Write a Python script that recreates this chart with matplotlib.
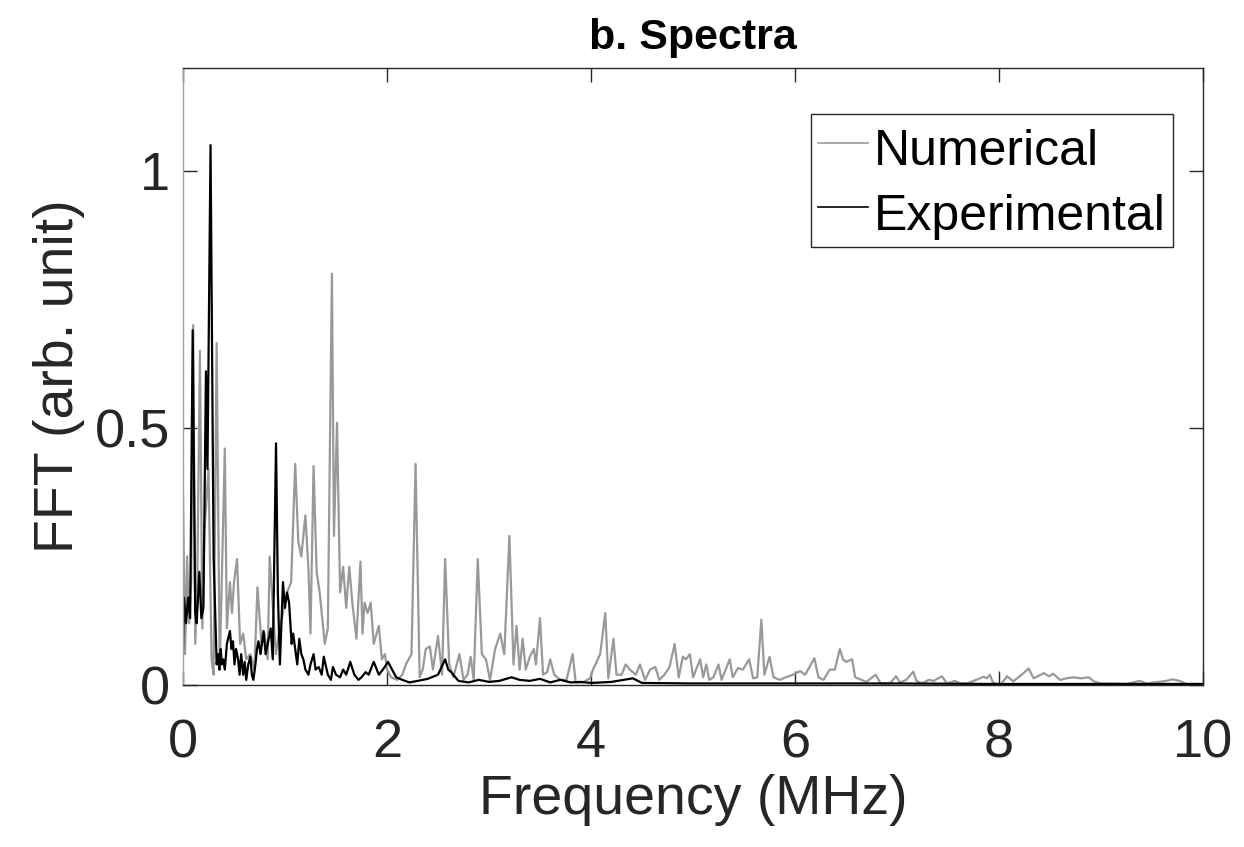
import matplotlib
matplotlib.use("Agg")
import matplotlib.pyplot as plt

# ---- data ----
num_freq = [0.00, 0.02, 0.04, 0.06, 0.08, 0.10, 0.12, 0.14, 0.166, 0.19, 0.21, 0.25, 0.28, 0.30,
            0.33, 0.36, 0.38, 0.41, 0.43, 0.46, 0.48, 0.50, 0.53, 0.56, 0.59, 0.62, 0.66, 0.70,
            0.73, 0.77, 0.80, 0.83, 0.85, 0.88, 0.91, 0.94, 0.98, 1.02, 1.06, 1.10, 1.13, 1.16,
            1.20, 1.23, 1.25, 1.28, 1.31, 1.34, 1.37, 1.39, 1.42, 1.46, 1.48, 1.51, 1.54, 1.57,
            1.60, 1.63, 1.66, 1.70, 1.74, 1.76, 1.78, 1.81, 1.84, 1.87, 1.92, 1.95, 1.98, 2.00,
            2.04, 2.10, 2.15, 2.19, 2.24, 2.28, 2.32, 2.35, 2.38, 2.42, 2.45, 2.50, 2.54, 2.57,
            2.61, 2.65, 2.71, 2.75, 2.79, 2.82, 2.85, 2.89, 2.93, 2.97, 3.01, 3.06, 3.11, 3.15,
            3.20, 3.24, 3.27, 3.30, 3.33, 3.36, 3.40, 3.44, 3.46, 3.50, 3.53, 3.57, 3.60, 3.64,
            3.70, 3.76, 3.82, 3.85, 3.92, 3.99, 4.02, 4.09, 4.14, 4.17, 4.22, 4.25, 4.30, 4.34,
            4.38, 4.44, 4.48, 4.53, 4.58, 4.63, 4.67, 4.72, 4.77, 4.82, 4.86, 4.90, 4.93, 4.97,
            5.00, 5.07, 5.10, 5.13, 5.16, 5.20, 5.25, 5.28, 5.36, 5.39, 5.44, 5.49, 5.55, 5.59,
            5.63, 5.67, 5.70, 5.75, 5.79, 5.85, 5.91, 5.98, 6.05, 6.10, 6.19, 6.23, 6.28, 6.34,
            6.39, 6.44, 6.47, 6.50, 6.56, 6.59, 6.65, 6.70, 6.79, 6.84, 6.93, 6.99, 7.03, 7.09,
            7.16, 7.19, 7.25, 7.31, 7.36, 7.44, 7.49, 7.57, 7.62, 7.69, 7.85, 7.88, 7.91, 7.94,
            8.01, 8.08, 8.14, 8.24, 8.29, 8.34, 8.44, 8.49, 8.53, 8.60, 8.66, 8.73, 8.80, 8.88,
            8.93, 9.00, 9.13, 9.25, 9.38, 9.45, 9.64, 9.70, 9.77, 9.84, 9.97, 10.0]
num_fft = [0.37, 0.06, 0.25, 0.12, 0.20, 0.70, 0.08, 0.20, 0.65, 0.11, 0.30, 0.42, 0.05, 0.02,
           0.665, 0.03, 0.20, 0.46, 0.11, 0.20, 0.14, 0.20, 0.245, 0.08, 0.10, 0.05, 0.06, 0.03,
           0.19, 0.08, 0.10, 0.05, 0.25, 0.155, 0.06, 0.10, 0.14, 0.18, 0.20, 0.43, 0.28, 0.25,
           0.33, 0.225, 0.10, 0.426, 0.22, 0.18, 0.12, 0.08, 0.11, 0.80, 0.29, 0.51, 0.18, 0.23,
           0.15, 0.23, 0.16, 0.09, 0.24, 0.10, 0.16, 0.14, 0.16, 0.08, 0.115, 0.05, 0.06, 0.03,
           0.015, 0.01, 0.02, 0.042, 0.06, 0.43, 0.015, 0.03, 0.07, 0.075, 0.03, 0.095, 0.02, 0.245,
           0.04, 0.015, 0.06, 0.01, 0.02, 0.055, 0.01, 0.245, 0.06, 0.05, 0.01, 0.07, 0.10, 0.06,
           0.29, 0.04, 0.115, 0.03, 0.09, 0.03, 0.055, 0.07, 0.04, 0.13, 0.02, 0.025, 0.05, 0.02,
           0.01, 0.01, 0.06, 0.005, 0.005, 0.013, 0.03, 0.06, 0.14, 0.013, 0.09, 0.02, 0.02, 0.04,
           0.03, 0.02, 0.04, 0.01, 0.03, 0.035, 0.01, 0.02, 0.035, 0.08, 0.015, 0.055, 0.05, 0.06,
           0.015, 0.05, 0.015, 0.04, 0.01, 0.015, 0.04, 0.01, 0.05, 0.015, 0.033, 0.03, 0.05, 0.013,
           0.015, 0.127, 0.02, 0.055, 0.015, 0.01, 0.015, 0.02, 0.027, 0.02, 0.052, 0.015, 0.01, 0.03,
           0.03, 0.07, 0.05, 0.045, 0.05, 0.015, 0.01, 0.006, 0.02, 0.003, 0.003, 0.017, 0.005, 0.01,
           0.026, 0.008, 0.003, 0.01, 0.008, 0.017, 0.003, 0.008, 0.003, 0.003, 0.016, 0.013, 0.02, 0.005,
           0.0, 0.017, 0.007, 0.023, 0.032, 0.013, 0.023, 0.017, 0.022, 0.01, 0.013, 0.015, 0.013, 0.015,
           0.007, 0.003, 0.003, 0.002, 0.008, 0.003, 0.008, 0.011, 0.008, 0.002, 0.002, 0.002]

exp_freq = [0.00, 0.01, 0.03, 0.05, 0.07, 0.095, 0.12, 0.134, 0.16, 0.18, 0.20, 0.225, 0.24, 0.27,
            0.30, 0.33, 0.345, 0.356, 0.37, 0.38, 0.395, 0.41, 0.43, 0.46, 0.475, 0.49, 0.505, 0.52,
            0.54, 0.555, 0.57, 0.59, 0.605, 0.62, 0.64, 0.66, 0.675, 0.69, 0.71, 0.725, 0.74, 0.76,
            0.79, 0.81, 0.83, 0.86, 0.88, 0.912, 0.93, 0.95, 0.98, 1.00, 1.02, 1.04, 1.065, 1.08,
            1.10, 1.12, 1.14, 1.16, 1.18, 1.20, 1.23, 1.25, 1.28, 1.30, 1.33, 1.36, 1.38, 1.42,
            1.45, 1.47, 1.50, 1.54, 1.57, 1.60, 1.64, 1.68, 1.72, 1.75, 1.79, 1.82, 1.87, 1.92,
            1.96, 2.01, 2.05, 2.09, 2.15, 2.22, 2.30, 2.40, 2.50, 2.57, 2.60, 2.63, 2.70, 2.80,
            2.90, 3.00, 3.10, 3.22, 3.30, 3.40, 3.50, 3.60, 3.70, 3.80, 3.90, 4.00, 4.20, 4.41,
            4.50, 5.00, 6.00, 7.00, 8.00, 9.00, 10.0]
exp_fft = [0.07, 0.17, 0.12, 0.17, 0.13, 0.69, 0.14, 0.12, 0.22, 0.13, 0.15, 0.61, 0.42, 1.05,
           0.25, 0.04, 0.06, 0.03, 0.07, 0.04, 0.05, 0.03, 0.08, 0.105, 0.07, 0.085, 0.04, 0.07,
           0.05, 0.02, 0.06, 0.02, 0.045, 0.01, 0.04, 0.055, 0.02, 0.01, 0.04, 0.07, 0.085, 0.06,
           0.105, 0.06, 0.08, 0.11, 0.05, 0.47, 0.18, 0.04, 0.20, 0.15, 0.18, 0.16, 0.08, 0.10,
           0.07, 0.04, 0.09, 0.06, 0.05, 0.03, 0.02, 0.04, 0.06, 0.03, 0.035, 0.02, 0.055, 0.02,
           0.01, 0.035, 0.02, 0.015, 0.03, 0.02, 0.045, 0.02, 0.01, 0.015, 0.025, 0.02, 0.045, 0.02,
           0.03, 0.045, 0.03, 0.015, 0.01, 0.005, 0.008, 0.012, 0.02, 0.05, 0.03, 0.025, 0.008, 0.005,
           0.01, 0.006, 0.008, 0.015, 0.01, 0.008, 0.012, 0.005, 0.01, 0.005, 0.006, 0.004, 0.006, 0.013,
           0.004, 0.003, 0.003, 0.003, 0.002, 0.002, 0.002]

series_labels = ["Numerical", "Experimental"]
x_ticks = [0, 2, 4, 6, 8, 10]
y_ticks = [0, 0.5, 1]
y_tick_labels = ["0", "0.5", "1"]

# ---- figure ----
plt.rcParams['font.family'] = ['Liberation Sans', 'DejaVu Sans']
W, H = 1244, 847
fig = plt.figure(figsize=(W / 100, H / 100), dpi=100)
ax = fig.add_axes([183 / W, 1 - 685 / H, (1203 - 183) / W, (685 - 68) / H])

ax.plot(num_freq, num_fft, color='#999999', lw=1.6, label=series_labels[0])
ax.plot(exp_freq, exp_fft, color='black', lw=1.6, label=series_labels[1])

ax.set_xlim(0, 10)
ax.set_ylim(0, 1.2)
ax.set_xticks(x_ticks)
ax.set_xticklabels([str(t) for t in x_ticks])
ax.set_yticks(y_ticks)
ax.set_yticklabels(y_tick_labels)

tick_col = '#262626'
ax.tick_params(axis='both', which='both', direction='in', length=10, width=1,
               color=tick_col, labelcolor=tick_col, labelsize=39,
               top=True, right=True)
ax.tick_params(axis='x', pad=24)
ax.tick_params(axis='y', pad=9)
for s in ax.spines.values():
    s.set_color(tick_col)
    s.set_linewidth(1)
ax.spines['left'].set_color('#a0a0a0')

ax.set_xlabel("Frequency (MHz)", fontsize=40, color=tick_col, labelpad=4)
ax.set_ylabel("FFT (arb. unit)", fontsize=40, color=tick_col, labelpad=7)

ax.set_title("b. Spectra", fontsize=31, fontweight='bold', color='black', pad=14)

leg = ax.legend(loc='upper right', bbox_to_anchor=(1173 / W, 1 - 114 / H),
                bbox_transform=fig.transFigure, borderaxespad=0,
                fontsize=36, frameon=True, fancybox=False, framealpha=1,
                handlelength=1.0, handletextpad=0.12, borderpad=0.14,
                handleheight=1.3, labelspacing=0.2)
leg.get_frame().set_edgecolor('#262626')
leg.get_frame().set_linewidth(1)
for ln in leg.get_lines():
    ln.set_linewidth(1.2)

fig.savefig("out.png", dpi=100, facecolor='white')
